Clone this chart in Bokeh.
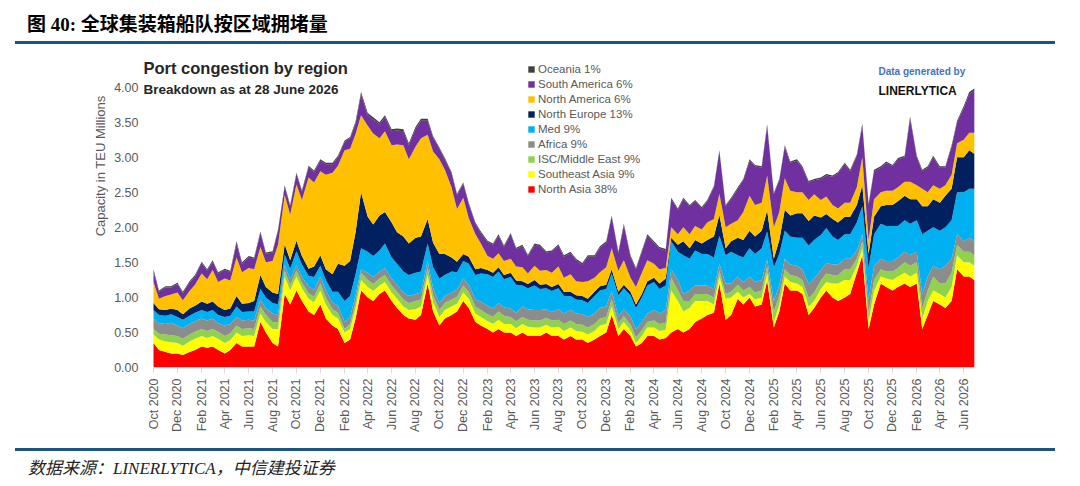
import math
from datetime import datetime
import pandas as pd
from bokeh.plotting import figure
from bokeh.models import (ColumnDataSource, Legend, LegendItem, Label, FixedTicker,
                          NumeralTickFormatter, Range1d, Div, Title)
from bokeh.layouts import column
from bokeh.embed import file_html
from bokeh.resources import INLINE

# ---------------- data (capacity, million TEU, semi-monthly readings) ----------------
dates = list(pd.date_range("2020-10-01", "2026-06-15", freq="SMS")) + [pd.Timestamp("2026-06-28")]

north_asia = [
    .35, .25, .22, .20, .20, .18, .22, .25, .30, .28,
    .30, .25, .20, .25, .35, .30, .30, .30, .65, .50,
    .35, .30, 1.05, .90, 1.10, .95, .80, .75, .90, .70,
    .60, .55, .35, .40, .70, 1.10, 1.00, .95, 1.05, 1.10,
    .95, .85, .75, .70, .68, .75, 1.20, .80, .60, .70,
    .75, .80, .95, .85, .65, .60, .55, .50, .55, .50,
    .50, .45, .50, .45, .45, .45, .50, .45, .45, .40,
    .45, .40, .40, .35, .40, .45, .50, .75, .45, .55,
    .45, .30, .35, .45, .45, .40, .42, .50, .55, .50,
    .55, .65, .70, .75, .78, 1.20, .68, .75, .98, .90,
    1.00, .87, .90, 1.24, .57, .80, 1.20, 1.10, 1.10, 1.05,
    .75, .85, 1.00, 1.10, 1.00, .95, 1.00, 1.05, 1.35, 1.60,
    .55, .90, 1.20, 1.15, 1.10, 1.15, 1.20, 1.15, 1.20, .55,
    .75, .95, .90, .85, .95, 1.40, 1.30, 1.30, 1.25]
southeast_asia = [
    .12, .15, .15, .16, .15, .13, .15, .16, .15, .14,
    .15, .16, .15, .14, .15, .15, .16, .15, .12, .15,
    .20, .25, .25, .20, .20, .18, .18, .18, .20, .20,
    .15, .15, .15, .15, .15, .15, .15, .14, .12, .12,
    .12, .13, .12, .12, .15, .12, .12, .13, .12, .12,
    .12, .11, .12, .13, .12, .12, .11, .12, .13, .12,
    .12, .11, .12, .13, .12, .12, .11, .12, .13, .12,
    .12, .12, .11, .12, .12, .15, .12, .12, .10, .10,
    .08, .05, .10, .12, .12, .12, .12, .60, .40, .30,
    .30, .30, .25, .20, .12, .10, .30, .25, .10, .10,
    .05, .10, .10, .10, .08, .10, .10, .12, .10, .10,
    .12, .10, .12, .12, .20, .25, .25, .20, .10, .10,
    .10, .20, .10, .12, .15, .15, .15, .15, .15, .15,
    .20, .15, .15, .15, .20, .20, .20, .20, .20]
isc_middle_east = [
    .08, .08, .10, .10, .10, .10, .10, .10, .10, .10,
    .10, .10, .10, .10, .10, .10, .10, .10, .10, .10,
    .10, .10, .08, .08, .08, .08, .08, .08, .10, .10,
    .08, .08, .05, .07, .08, .10, .10, .10, .10, .10,
    .10, .10, .10, .10, .12, .10, .10, .10, .10, .10,
    .10, .10, .10, .10, .10, .10, .10, .10, .12, .12,
    .10, .10, .10, .10, .10, .10, .10, .10, .10, .10,
    .10, .10, .10, .10, .10, .10, .10, .10, .08, .08,
    .08, .08, .08, .08, .10, .10, .10, .18, .15, .15,
    .10, .10, .10, .10, .10, .08, .07, .08, .10, .10,
    .10, .10, .10, .10, .15, .12, .10, .10, .10, .10,
    .12, .12, .12, .12, .12, .12, .15, .15, .10, .10,
    .12, .15, .10, .10, .12, .12, .15, .15, .15, .15,
    .15, .20, .15, .20, .20, .15, .15, .15, .15]
africa = [
    .15, .15, .15, .18, .15, .15, .15, .15, .15, .15,
    .15, .12, .15, .13, .12, .12, .12, .12, .10, .10,
    .12, .10, .08, .08, .08, .08, .10, .10, .10, .10,
    .10, .10, .10, .10, .10, .05, .10, .10, .10, .10,
    .10, .10, .10, .10, .10, .10, .10, .10, .10, .10,
    .10, .10, .10, .10, .10, .12, .12, .12, .12, .12,
    .12, .12, .15, .15, .15, .15, .12, .12, .15, .15,
    .15, .15, .15, .15, .15, .15, .15, .12, .10, .10,
    .12, .12, .12, .12, .15, .15, .18, .12, .15, .10,
    .15, .12, .12, .12, .12, .10, .15, .12, .12, .12,
    .15, .15, .15, .10, .15, .15, .15, .15, .15, .15,
    .20, .20, .15, .15, .15, .15, .15, .15, .12, .10,
    .20, .20, .15, .15, .15, .15, .15, .15, .15, .20,
    .20, .15, .20, .25, .20, .15, .15, .20, .20]
med = [
    .12, .12, .12, .12, .12, .12, .12, .12, .12, .12,
    .12, .12, .12, .12, .15, .12, .12, .13, .15, .15,
    .15, .15, .15, .15, .20, .18, .15, .18, .15, .15,
    .15, .20, .30, .30, .30, .30, .30, .30, .30, .35,
    .30, .30, .30, .30, .30, .30, .25, .30, .35, .30,
    .30, .25, .25, .30, .35, .40, .45, .45, .45, .40,
    .45, .40, .30, .30, .35, .30, .30, .30, .30, .25,
    .20, .20, .20, .20, .25, .25, .25, .25, .30, .30,
    .30, .30, .35, .40, .40, .35, .35, .40, .40, .55,
    .45, .50, .45, .45, .45, .40, .40, .45, .30, .35,
    .40, .40, .45, .40, .48, .45, .40, .40, .40, .45,
    .55, .55, .50, .50, .40, .35, .35, .35, .40, .40,
    .45, .45, .50, .50, .50, .45, .45, .45, .45, .85,
    .65, .55, .55, .55, .55, .60, .70, .70, .75]
north_europe = [
    .10, .08, .08, .08, .10, .08, .10, .10, .12, .12,
    .12, .12, .10, .10, .15, .12, .12, .15, .20, .15,
    .15, .15, .15, .12, .15, .12, .10, .15, .15, .15,
    .25, .40, .50, .50, .60, .80, .50, .45, .50, .45,
    .50, .45, .50, .45, .50, .50, .35, .35, .35, .30,
    .20, .15, .10, .10, .08, .08, .06, .06, .06, .06,
    .06, .06, .06, .06, .08, .06, .06, .06, .06, .06,
    .06, .06, .06, .06, .06, .06, .06, .06, .05, .05,
    .05, .05, .05, .06, .06, .08, .10, .05, .10, .20,
    .15, .15, .15, .20, .30, .30, .10, .15, .25, .25,
    .25, .25, .25, .30, .12, .20, .30, .30, .35, .35,
    .35, .35, .25, .20, .25, .25, .25, .25, .25, .30,
    .20, .25, .25, .30, .30, .35, .35, .35, .30, .40,
    .35, .40, .40, .45, .45, .50, .50, .55, .50]
north_america = [
    .30, .15, .20, .20, .25, .20, .25, .30, .40, .35,
    .45, .35, .45, .40, .55, .45, .50, .45, .40, .35,
    .45, .70, .70, .65, .80, .80, 1.30, 1.20, 1.20, 1.35,
    1.45, 1.40, 1.65, 1.60, 1.40, 1.10, 1.30, 1.30, 1.10, 1.15,
    1.10, 1.25, 1.30, 1.20, 1.30, 1.40, 1.20, 1.30, 1.35, 1.20,
    1.00, .75, .80, .55, .50, .35, .20, .20, .20, .20,
    .20, .20, .20, .15, .20, .20, .20, .20, .25, .20,
    .25, .20, .20, .25, .20, .20, .25, .30, .30, .35,
    .20, .25, .30, .30, .20, .20, .15, .15, .15, .20,
    .20, .20, .20, .25, .25, .30, .30, .25, .25, .40,
    .50, .45, .40, .50, .45, .40, .45, .35, .30, .30,
    .30, .30, .25, .25, .20, .20, .20, .20, .25, .40,
    .20, .25, .20, .20, .20, .20, .20, .25, .20, .25,
    .20, .20, .20, .15, .20, .20, .25, .25, .30]
south_america = [
    .15, .10, .12, .10, .12, .10, .12, .12, .15, .12,
    .12, .12, .12, .12, .20, .12, .15, .15, .20, .12,
    .12, .20, .12, .12, .15, .12, .15, .15, .15, .15,
    .12, .12, .12, .15, .15, .30, .15, .20, .20, .20,
    .20, .20, .20, .20, .25, .25, .20, .20, .15, .15,
    .20, .20, .20, .20, .15, .15, .20, .20, .25, .20,
    .35, .25, .30, .25, .30, .35, .25, .30, .30, .30,
    .30, .30, .25, .35, .30, .35, .35, .45, .25, .50,
    .30, .25, .30, .35, .30, .30, .25, .40, .35, .40,
    .40, .35, .30, .30, .45, .60, .30, .35, .45, .45,
    .50, .55, .50, .70, .47, .45, .45, .40, .45, .35,
    .25, .20, .30, .30, .40, .50, .55, .45, .45, .45,
    .50, .40, .35, .40, .35, .40, .35, .90, .40, .25,
    .35, .40, .30, .25, .40, .30, .45, .55, .60]
oceania = [
    .03, .02, .02, .02, .02, .02, .02, .02, .02, .02,
    .02, .02, .02, .02, .03, .02, .02, .02, .02, .02,
    .02, .02, .02, .02, .02, .02, .02, .02, .02, .02,
    .02, .02, .02, .02, .03, .03, .03, .03, .03, .03,
    .03, .03, .03, .03, .03, .03, .03, .02, .02, .02,
    .02, .02, .02, .02, .02, .02, .02, .02, .02, .02,
    .02, .02, .02, .02, .02, .02, .02, .02, .02, .02,
    .02, .02, .02, .02, .02, .02, .02, .02, .02, .02,
    .02, .02, .02, .02, .02, .02, .02, .02, .02, .02,
    .02, .02, .02, .02, .02, .02, .02, .02, .02, .02,
    .02, .02, .02, .03, .02, .02, .02, .02, .02, .02,
    .02, .02, .02, .02, .02, .02, .02, .02, .02, .03,
    .02, .02, .02, .02, .02, .02, .02, .03, .02, .02,
    .02, .02, .02, .02, .02, .02, .03, .03, .03]

series_keys = ["north_asia", "southeast_asia", "isc_middle_east", "africa", "med",
               "north_europe", "north_america", "south_america", "oceania"]
series_labels = ["North Asia 38%", "Southeast Asia 9%", "ISC/Middle East 9%", "Africa 9%", "Med 9%",
                 "North Europe 13%", "North America 6%", "South America 6%", "Oceania 1%"]
series_colors = ["#FF0000", "#FFFF00", "#92D050", "#8C8C8C", "#00B0F0",
                 "#002060", "#FFC000", "#7030A0", "#3F3F3F"]

x_tick_dates = list(pd.date_range("2020-10-01", "2026-06-01", freq="2MS"))
x_tick_labels = ["Oct 2020", "Dec 2020", "Feb 2021", "Apr 2021", "Jun 2021", "Aug 2021",
                 "Oct 2021", "Dec 2021", "Feb 2022", "Apr 2022", "Jun 2022", "Aug 2022",
                 "Oct 2022", "Dec 2022", "Feb 2023", "Apr 2023", "Jun 2023", "Aug 2023",
                 "Oct 2023", "Dec 2023", "Feb 2024", "Apr 2024", "Jun 2024", "Aug 2024",
                 "Oct 2024", "Dec 2024", "Feb 2025", "Apr 2025", "Jun 2025", "Aug 2025",
                 "Oct 2025", "Dec 2025", "Feb 2026", "Apr 2026", "Jun 2026"]
y_ticks = [0.0, 0.5, 1.0, 1.5, 2.0, 2.5, 3.0, 3.5, 4.0]

# ---------------- figure geometry (page pixels) ----------------
FONT = "Liberation Sans"
GREY = "#595959"

def ms(d):
    return (pd.Timestamp(d) - pd.Timestamp("1970-01-01")).total_seconds() * 1000.0

DATA_START = ms(datetime(2020, 10, 1))   # at page x 153
DATA_END = ms(datetime(2026, 7, 1))      # at page x 975
MS_PER_PX = (DATA_END - DATA_START) / 822.0
FRAME_LEFT, FRAME_RIGHT = 140, 975
FRAME_TOP, FRAME_BOTTOM = 44, 367
Y_END = 4.608
X0 = DATA_START - (153 - FRAME_LEFT) * MS_PER_PX
X1 = DATA_END

def page_x(px):
    return X0 + (px - FRAME_LEFT) * MS_PER_PX

def page_y(py):
    return (FRAME_BOTTOM - py) * Y_END / (FRAME_BOTTOM - FRAME_TOP)

FIG_W = 1072
FIG_H = 402   # page 44 .. 446
p = figure(width=FIG_W, height=FIG_H, x_axis_type="datetime", output_backend="svg",
           toolbar_location=None, title=None,
           x_range=Range1d(X0, X1), y_range=Range1d(0, Y_END),
           min_border_left=FRAME_LEFT, min_border_right=FIG_W - FRAME_RIGHT,
           min_border_top=0, min_border_bottom=446 - FRAME_BOTTOM)
p.outline_line_color = None
p.xgrid.grid_line_color = None
p.ygrid.grid_line_color = None
p.background_fill_color = "white"
p.border_fill_color = "white"

data = dict(date=dates, north_asia=north_asia, southeast_asia=southeast_asia,
            isc_middle_east=isc_middle_east, africa=africa, med=med, north_europe=north_europe,
            north_america=north_america, south_america=south_america, oceania=oceania)
source = ColumnDataSource(data)
renderers = p.varea_stack(stackers=series_keys, x="date", color=series_colors, source=source)

# y axis
p.yaxis.ticker = FixedTicker(ticks=y_ticks)
p.yaxis.formatter = NumeralTickFormatter(format="0.00")
p.yaxis.axis_line_color = None
p.yaxis.major_tick_line_color = None
p.yaxis.major_tick_out = 0
p.yaxis.major_tick_in = 0
p.yaxis.minor_tick_line_color = None
p.yaxis.minor_tick_out = 0
p.yaxis.major_label_standoff = 2
p.yaxis.major_label_text_font = FONT
p.yaxis.major_label_text_font_size = "12.5px"
p.yaxis.major_label_text_color = GREY

# y axis title placed in the left side panel, shifted toward the top like the original
y_title = Title(text="Capacity in TEU Millions", align="right", offset=51, standoff=8,
                text_font=FONT, text_font_size="13px", text_font_style="normal",
                text_color=GREY)
p.add_layout(y_title, "left")

# x axis
tick_ms = [ms(d) for d in x_tick_dates]
p.xaxis.ticker = FixedTicker(ticks=tick_ms)
p.xaxis.major_label_overrides = {t: lab for t, lab in zip(tick_ms, x_tick_labels)}
p.xaxis.major_label_orientation = math.pi / 2
p.xaxis.bounds = (DATA_START, DATA_END)
p.xaxis.axis_line_color = "#D9D9D9"
p.xaxis.major_tick_line_color = "#D9D9D9"
p.xaxis.major_tick_out = 6
p.xaxis.major_tick_in = 0
p.xaxis.minor_tick_line_color = None
p.xaxis.major_label_standoff = 5
p.xaxis.major_label_text_font = FONT
p.xaxis.major_label_text_font_size = "12.5px"
p.xaxis.major_label_text_color = GREY

# legend (Oceania on top)
items = [LegendItem(label=lab, renderers=[r]) for lab, r in zip(series_labels, renderers)]
items.reverse()
legend = Legend(items=items, location=(527 - FRAME_LEFT, FRAME_BOTTOM - 196), orientation="vertical",
                padding=0, margin=0, spacing=0, glyph_width=8, glyph_height=8,
                label_height=15, label_standoff=3,
                label_text_font=FONT, label_text_font_size="11.5px", label_text_color=GREY,
                background_fill_alpha=0, border_line_alpha=0)
p.add_layout(legend)

# texts inside the chart
p.add_layout(Label(x=page_x(143), y=page_y(67), text="Port congestion by region",
                   text_font=FONT, text_font_size="16.5px", text_font_style="bold",
                   text_color="#262626", text_baseline="middle", text_align="left"))
p.add_layout(Label(x=page_x(143), y=page_y(89), text="Breakdown as at 28 June 2026",
                   text_font=FONT, text_font_size="13.5px", text_font_style="bold",
                   text_color="#262626", text_baseline="middle", text_align="left"))
p.add_layout(Label(x=page_x(878), y=page_y(71), text="Data generated by",
                   text_font=FONT, text_font_size="10px", text_font_style="bold",
                   text_color="#4472C4", text_baseline="middle", text_align="left"))
p.add_layout(Label(x=page_x(878), y=page_y(90), text="LINERLYTICA",
                   text_font=FONT, text_font_size="12px", text_font_style="bold",
                   text_color="#111111", text_baseline="middle", text_align="left"))

# ---------------- header / footer ----------------
header = Div(
    text=('<div style="position:relative;width:1072px;height:44px;">'
          '<div style="position:absolute;left:27px;top:13px;font-family:\'Liberation Serif\',\'Noto Sans CJK SC\';'
          'font-weight:bold;font-size:19px;line-height:24px;color:#000;white-space:nowrap;">'
          '图 40: 全球集装箱船队按区域拥堵量</div>'
          '<div style="position:absolute;left:15px;top:41px;width:1040px;height:3px;background:#1A5583;"></div>'
          '</div>'),
    width=1072, height=44, margin=(0, 0, 0, 0))
footer = Div(
    text=('<div style="position:relative;width:1072px;height:36px;">'
          '<div style="position:absolute;left:15px;top:2px;width:1040px;height:3px;background:#1A5583;"></div>'
          '<div style="position:absolute;left:28px;top:12px;font-family:\'Liberation Serif\',\'Noto Sans CJK SC\';'
          'font-style:italic;font-size:17px;line-height:22px;color:#222;white-space:nowrap;">'
          '数据来源：LINERLYTICA，中信建投证券</div>'
          '</div>'),
    width=1072, height=36, margin=(0, 0, 0, 0))

layout = column(header, p, footer, spacing=0)
open("out.html", "w").write(file_html(layout, INLINE))
